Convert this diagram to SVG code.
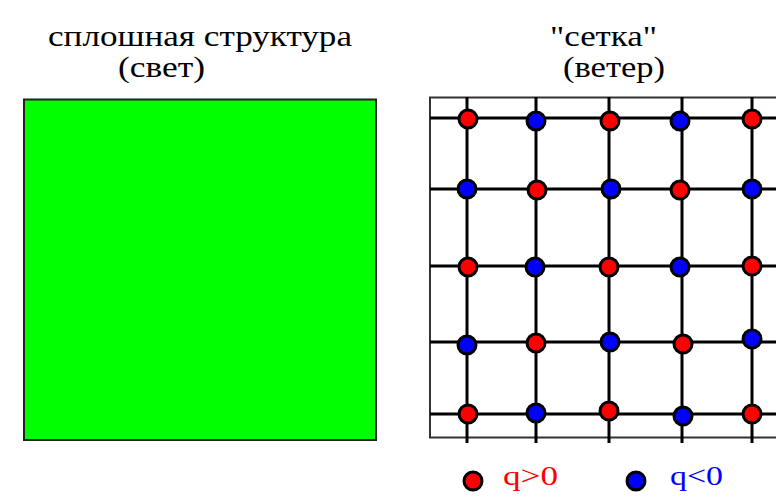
<svg xmlns="http://www.w3.org/2000/svg" width="776" height="501" viewBox="0 0 776 501">
<style>
.g{stroke:#000;stroke-width:3;fill:none}
.p{fill:#ff0000;stroke:#000;stroke-width:3}
.n{fill:#0000ff;stroke:#000;stroke-width:3}
</style>
<rect width="776" height="501" fill="#fff"/>
<g id="titles" font-family="Liberation Serif, DejaVu Serif, serif" font-size="29" fill="#000">
<text x="48" y="46" textLength="304" lengthAdjust="spacingAndGlyphs">сплошная структура</text>
<text x="118" y="77" textLength="87" lengthAdjust="spacingAndGlyphs">(свет)</text>
<text x="550" y="46" textLength="107" lengthAdjust="spacingAndGlyphs">"сетка"</text>
<text x="563" y="77" textLength="102" lengthAdjust="spacingAndGlyphs">(ветер)</text>
</g>
<g id="solid">
<rect x="24" y="99.5" width="352" height="340.5" fill="#00ff00" stroke="#222" stroke-width="2"/>
</g>
<g id="frame">
<rect x="430" y="97.5" width="360" height="340" fill="#fff" stroke="#333" stroke-width="2"/>
</g>
<g id="connectors" class="g">
<line x1="430" y1="118" x2="776" y2="118"/>
<line x1="430" y1="189" x2="776" y2="189"/>
<line x1="430" y1="266" x2="776" y2="266"/>
<line x1="430" y1="342" x2="776" y2="342"/>
<line x1="430" y1="414" x2="776" y2="414"/>
<line x1="467" y1="97" x2="467" y2="443"/>
<line x1="536" y1="97" x2="536" y2="443"/>
<line x1="609" y1="97" x2="609" y2="443"/>
<line x1="682" y1="97" x2="682" y2="443"/>
<line x1="752" y1="97" x2="752" y2="443"/>
</g>
<g id="charges">
<circle class="p" cx="468" cy="119" r="9"/>
<circle class="n" cx="536" cy="121" r="9"/>
<circle class="p" cx="610" cy="121" r="9"/>
<circle class="n" cx="680" cy="121" r="9"/>
<circle class="p" cx="752" cy="119" r="9"/>
<circle class="n" cx="467" cy="189" r="9"/>
<circle class="p" cx="537" cy="190" r="9"/>
<circle class="n" cx="611" cy="189" r="9"/>
<circle class="p" cx="680" cy="190" r="9"/>
<circle class="n" cx="752" cy="189" r="9"/>
<circle class="p" cx="468" cy="267" r="9"/>
<circle class="n" cx="535" cy="267" r="9"/>
<circle class="p" cx="609" cy="267" r="9"/>
<circle class="n" cx="680" cy="267" r="9"/>
<circle class="p" cx="752" cy="266" r="9"/>
<circle class="n" cx="467" cy="345" r="9"/>
<circle class="p" cx="536" cy="343" r="9"/>
<circle class="n" cx="610" cy="342" r="9"/>
<circle class="p" cx="683" cy="344" r="9"/>
<circle class="n" cx="752" cy="339" r="9"/>
<circle class="p" cx="468" cy="414" r="9"/>
<circle class="n" cx="536" cy="413" r="9"/>
<circle class="p" cx="609" cy="411" r="9"/>
<circle class="n" cx="683" cy="416" r="9"/>
<circle class="p" cx="752" cy="414" r="9"/>
</g>
<g id="legend-pos">
<circle class="p" cx="473" cy="481" r="9"/>
<text x="503" y="485" font-family="Liberation Serif, DejaVu Serif, serif" font-size="28" fill="#ff0000" textLength="55" lengthAdjust="spacingAndGlyphs">q&gt;0</text>
</g>
<g id="legend-neg">
<circle class="n" cx="636" cy="481" r="9"/>
<text x="670" y="485" font-family="Liberation Serif, DejaVu Serif, serif" font-size="28" fill="#0000ff" textLength="53" lengthAdjust="spacingAndGlyphs">q&lt;0</text>
</g>
</svg>
